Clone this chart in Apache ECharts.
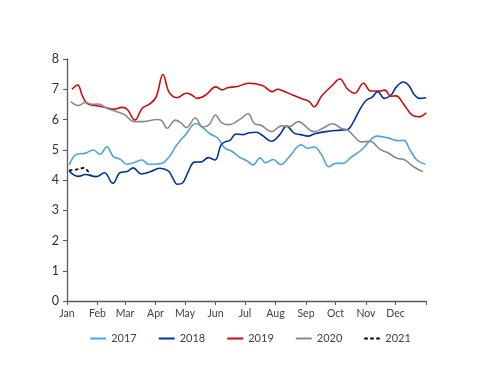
<!DOCTYPE html>
<html>
<head>
<meta charset="utf-8">
<script src="https://cdn.jsdelivr.net/npm/echarts@6/dist/echarts.min.js"></script>
<style>html,body{margin:0;padding:0;background:#fff}#c{width:500px;height:386px}</style>
</head>
<body>
<div id="c"></div>
<script>
// Month tick positions (day of year) and labels
const monthStarts = [0,31,59,90,120,151,181,212,243,273,304,334,365];
const monthLabels = ['Jan','Feb','Mar','Apr','May','Jun','Jul','Aug','Sep','Oct','Nov','Dec'];
const yTicks = [0,1,2,3,4,5,6,7,8];
const seriesNames = ['2017','2018','2019','2020','2021'];

// [day of year, value]
const data2017 = [[2.3,4.50],[9.9,4.85],[18.3,4.88],[26.8,4.99],[33.6,4.85],[40.5,5.10],[47.2,4.77],[54.0,4.69],[60.9,4.52],[67.6,4.57],[76.1,4.66],[82.9,4.52],[91.7,4.53],[97.9,4.57],[104.0,4.77],[112.1,5.18],[120.6,5.50],[131.0,5.87],[138.1,5.73],[145.8,5.52],[153.4,5.38],[160.0,5.07],[167.7,4.95],[174.8,4.77],[183.5,4.62],[189.1,4.50],[196.4,4.73],[202.0,4.57],[209.5,4.68],[217.3,4.51],[226.8,4.80],[238.0,5.16],[244.7,5.05],[251.3,5.09],[258.9,4.83],[266.3,4.44],[273.2,4.55],[280.8,4.55],[288.7,4.75],[299.7,5.00],[307.1,5.27],[314.7,5.45],[325.2,5.40],[337.4,5.30],[342.5,5.31],[348.6,5.00],[355.8,4.66],[364.4,4.52]];
const data2018 = [[2.0,4.31],[6.8,4.17],[11.7,4.12],[18.6,4.18],[29.6,4.11],[38.1,4.24],[46.6,3.89],[54.2,4.25],[61.2,4.28],[67.3,4.40],[75.4,4.20],[84.6,4.27],[94.3,4.39],[103.0,4.30],[107.0,4.10],[112.1,3.86],[117.7,3.91],[123.3,4.28],[129.5,4.59],[136.6,4.60],[143.7,4.74],[150.4,4.66],[156.5,5.15],[160.6,5.26],[165.6,5.31],[171.8,5.52],[178.4,5.50],[185.5,5.56],[192.7,5.58],[198.8,5.47],[208.0,5.28],[216.1,5.49],[223.3,5.78],[230.9,5.55],[237.5,5.50],[245.2,5.45],[251.8,5.53],[263.0,5.60],[278.3,5.65],[285.4,5.67],[290.5,5.88],[297.4,6.31],[303.8,6.62],[309.9,6.73],[316.0,6.92],[322.6,6.70],[329.5,6.81],[334.9,7.08],[342.0,7.24],[347.1,7.14],[353.4,6.81],[358.5,6.70],[365.2,6.72]];
const data2019 = [[5.1,7.00],[10.9,7.14],[15.3,6.81],[20.4,6.53],[28.8,6.46],[35.7,6.42],[42.5,6.37],[47.6,6.34],[56.1,6.40],[61.2,6.34],[69.0,5.98],[76.5,6.37],[84.9,6.53],[90.7,6.75],[97.6,7.49],[103.0,6.95],[107.0,6.78],[112.1,6.72],[121.3,6.87],[126.4,6.82],[132.5,6.70],[140.7,6.80],[151.4,7.08],[158.0,6.98],[163.1,7.05],[173.3,7.09],[184.5,7.20],[198.8,7.12],[209.0,6.92],[214.1,7.00],[219.2,6.95],[229.4,6.81],[239.6,6.68],[246.4,6.59],[251.3,6.42],[258.9,6.78],[270.1,7.14],[277.3,7.34],[285.4,7.00],[292.6,6.87],[301.4,7.20],[308.9,6.94],[318.1,6.94],[323.1,6.97],[329.3,6.77],[334.4,6.78],[343.0,6.47],[350.7,6.15],[357.8,6.09],[365.2,6.22]];
const data2020 = [[3.8,6.59],[11.5,6.46],[18.3,6.56],[26.8,6.50],[31.9,6.51],[40.5,6.37],[50.7,6.26],[59.1,6.15],[67.6,5.93],[77.8,5.93],[91.4,6.00],[96.3,5.96],[101.9,5.71],[110.1,5.98],[116.2,5.88],[121.3,5.73],[130.5,6.05],[138.1,5.75],[144.8,5.84],[150.9,6.15],[157.0,5.90],[164.6,5.83],[176.4,6.02],[184.0,6.19],[190.6,5.86],[197.3,5.81],[208.0,5.60],[218.2,5.79],[226.3,5.77],[235.0,5.93],[247.7,5.63],[251.8,5.60],[260.5,5.72],[270.1,5.86],[278.6,5.71],[285.4,5.65],[292.3,5.43],[299.0,5.26],[307.9,5.28],[318.1,5.02],[326.2,4.90],[335.4,4.72],[343.0,4.67],[353.2,4.42],[361.9,4.27]];
const data2021 = [[2.0,4.32],[10.2,4.35],[16.8,4.40],[23.8,4.17]];

const colors = ['#4FA3E0','#0033A0','#CC0A0A','#8A8A8A','#000000'];
const allData = [data2017,data2018,data2019,data2020,data2021];

const chart = echarts.init(document.getElementById('c'), null, {renderer:'canvas'});
const font = 'Lato, "Open Sans", sans-serif';
chart.setOption({
  animation:false,
  textStyle:{fontFamily:font},
  grid:{left:67,right:74,top:59,bottom:85,containLabel:false},
  legend:{
    bottom:37,left:'center',itemWidth:16,itemHeight:8,itemGap:21,
    itemStyle:{opacity:0},
    textStyle:{fontFamily:font,fontSize:11,color:'#404040'},
    data:seriesNames
  },
  xAxis:{
    type:'value',min:0,max:365,
    axisLine:{show:true,lineStyle:{color:'#595959',width:1.3}},
    axisTick:{show:true,length:4,inside:false,customValues:monthStarts,lineStyle:{color:'#595959'}},
    axisLabel:{customValues:monthStarts.slice(0,12),fontSize:10.5,color:'#404040',margin:7,
      formatter:function(v){const i=monthStarts.indexOf(v);return i>=0&&i<12?monthLabels[i]:'';}},
    splitLine:{show:false}
  },
  yAxis:{
    type:'value',min:0,max:8,interval:1,
    axisLine:{show:true,lineStyle:{color:'#595959',width:1.3}},
    axisTick:{show:true,length:4,lineStyle:{color:'#595959'}},
    axisLabel:{fontSize:12.5,color:'#303030',margin:8},
    splitLine:{show:false}
  },
  series:allData.map((d,i)=>({
    name:seriesNames[i],type:'line',data:d,smooth:0.4,showSymbol:false,symbol:'none',
    lineStyle:{color:colors[i],width:1.6,type:i===4?[3.5,2.5]:'solid'},
    itemStyle:{color:colors[i]}
  }))
});
</script>
</body>
</html>
